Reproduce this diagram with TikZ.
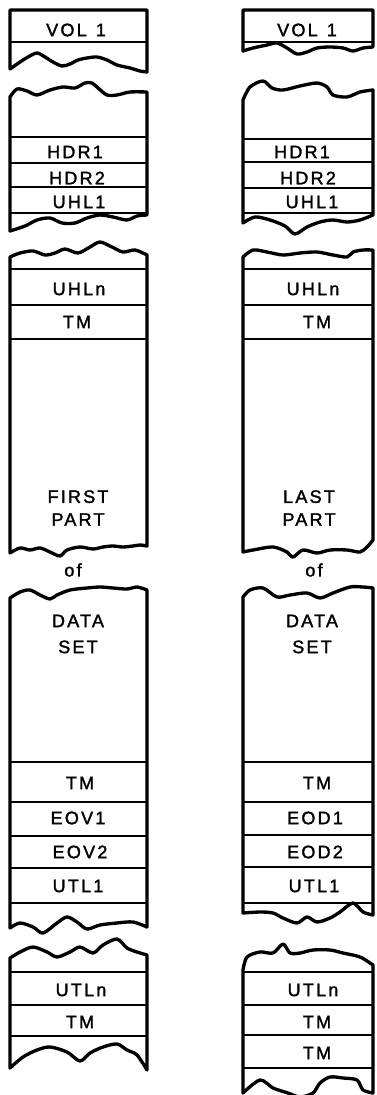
\documentclass[tikz,border=0pt]{standalone}
\usepackage{fontspec}
\setmainfont{Liberation Sans}[LetterSpace=12,FakeBold=1.6]
\tikzset{
  tape/.style={line width=1.9pt, line join=round},
  row/.style={line width=0.9pt},
  lbl/.style={font=\fontsize{10.3}{13}\selectfont, inner sep=0pt, align=center}
}

\begin{document}
\begin{tikzpicture}[x=0.02cm, y=-0.02cm]
                \useasboundingbox (0,0) rectangle (376,1095);
                % first volume
                \draw [tape] (10,10) -- (147,10) -- plot[smooth] coordinates {(147,72) (140,71) (130,68) (117,65) (107,60) (97,57) (87,58) (78,60) (70,64) (62,66) (53,62) (45,57) (37,53) (28,57) (20,62) (10,69)} -- cycle;
                \draw [row] (10,42) -- (147,42);
                \draw [tape] plot[smooth] coordinates {(10,97) (17,89) (27,91) (37,95) (50,90) (63,87) (75,88) (85,83) (92,83) (98,88) (107,95) (117,95) (130,92) (147,92)} -- plot[smooth] coordinates {(147,215) (137,216) (127,220) (113,217) (100,215) (87,218) (75,223) (62,223) (50,218) (37,220) (25,226) (10,231)} -- cycle;
                \foreach \y in {137,163,187,213} \draw [row] (10,\y) -- (147,\y);
                \draw [tape] plot[smooth] coordinates {(10,257) (20,253) (33,251) (45,255) (55,253) (65,249) (78,253) (90,247) (100,242) (112,247) (123,252) (135,250) (147,255)} -- plot[smooth] coordinates {(147,546) (140,545) (133,546) (123,547) (113,546) (103,547) (93,549) (80,547) (67,550) (60,556) (50,552) (40,548) (30,550) (20,548) (10,553)} -- cycle;
                \foreach \y in {269,305,339} \draw [row] (10,\y) -- (147,\y);
                \draw [tape] plot[smooth] coordinates {(10,598) (20,592) (30,590) (40,595) (50,599) (57,595) (70,590) (87,588) (100,587) (113,588) (127,589) (137,587) (147,590)} -- plot[smooth] coordinates {(147,927) (133,922) (117,923) (100,925) (87,929) (77,922) (67,917) (57,923) (43,933) (33,927) (20,923) (10,928)} -- cycle;
                \foreach \y in {762,802,836,868,903} \draw [row] (10,\y) -- (147,\y);
                \draw [tape] plot[smooth] coordinates {(10,958) (20,952) (33,947) (47,952) (57,957) (70,952) (80,947) (93,953) (103,945) (117,939) (127,948) (137,952) (147,955)} -- plot[smooth] coordinates {(147,1070) (137,1055) (127,1050) (117,1044) (103,1047) (90,1053) (80,1061) (67,1052) (50,1047) (37,1050) (23,1057) (10,1068)} -- cycle;
                \foreach \y in {972,1005,1036} \draw [row] (10,\y) -- (147,\y);
                \node [lbl] (volF) at (76,30) {VOL\enspace 1};
                \node [lbl] (hdrOneF) at (75,152) {HDR1};
                \node [lbl] (hdrTwoF) at (77,178) {HDR2};
                \node [lbl] (uhlOneF) at (79,202) {UHL1};
                \node [lbl] (uhlnF) at (79,289) {UHLn};
                \node [lbl] (tmaF) at (77,322) {TM};
                \node [lbl] (partF) at (78,508) {FIRST\\PART};
                \node [lbl] (ofF) at (73,570) {of};
                \node [lbl] (dataF) at (78,634) {DATA\\[1.8pt]SET};
                \node [lbl] (tmbF) at (80,783) {TM};
                \node [lbl] (eovOneF) at (78,818) {EOV1};
                \node [lbl] (eovTwoF) at (80,852) {EOV2};
                \node [lbl] (utlOneF) at (78,886) {UTL1};
                \node [lbl] (utlnF) at (81,990) {UTLn};
                \node [lbl] (tmcF) at (80,1022) {TM};
                % last volume
                \draw [tape] (243,10) -- (373,10) -- plot[smooth] coordinates {(373,47) (363,48) (353,51) (343,48) (330,47) (317,48) (307,52) (297,54) (287,48) (277,43) (267,45) (253,48) (243,51)} -- cycle;
                \draw [row] (243,42) -- (373,42);
                \draw [tape] plot[smooth] coordinates {(243,100) (250,87) (263,81) (272,88) (283,90) (300,86) (317,83) (327,87) (333,95) (347,97) (360,92) (373,90)} -- plot[smooth] coordinates {(373,215) (360,220) (347,222) (333,220) (320,222) (307,227) (295,234) (285,226) (270,220) (255,217) (243,223)} -- cycle;
                \foreach \y in {139,162,188,213} \draw [row] (243,\y) -- (373,\y);
                \draw [tape] plot[smooth] coordinates {(243,257) (253,250) (267,252) (283,255) (300,253) (317,252) (333,255) (347,257) (353,252) (363,250) (373,250)} -- plot[smooth] coordinates {(373,540) (367,547) (360,552) (347,550) (330,550) (317,553) (303,550) (293,557) (287,552) (273,547) (253,550) (243,552)} -- cycle;
                \foreach \y in {269,305,339} \draw [row] (243,\y) -- (373,\y);
                \draw [tape] plot[smooth] coordinates {(243,597) (250,590) (263,588) (277,597) (290,595) (307,593) (320,598) (333,593) (350,587) (363,587) (373,588)} -- plot[smooth] coordinates {(373,915) (363,912) (353,903) (340,912) (330,918) (317,922) (307,917) (297,923) (283,918) (273,913) (260,912) (243,913)} -- cycle;
                \foreach \y in {762,802,835,867,903} \draw [row] (243,\y) -- (373,\y);
                \draw [tape] plot[smooth] coordinates {(243,970) (247,957) (260,952) (273,953) (283,944) (290,953) (300,953) (313,950) (330,950) (343,953) (360,957) (373,965)} -- plot[smooth] coordinates {(373,1093) (363,1090) (357,1080) (343,1078) (330,1077) (320,1083) (313,1093) (300,1097) (288,1093) (273,1088) (260,1080) (243,1093)} -- cycle;
                \foreach \y in {972,1005,1035,1068} \draw [row] (243,\y) -- (373,\y);
                \node [lbl] (volL) at (307,30) {VOL\enspace 1};
                \node [lbl] (hdrOneL) at (302,152) {HDR1};
                \node [lbl] (hdrTwoL) at (308,178) {HDR2};
                \node [lbl] (uhlOneL) at (312,202) {UHL1};
                \node [lbl] (uhlnL) at (313,289) {UHLn};
                \node [lbl] (tmaL) at (317,322) {TM};
                \node [lbl] (partL) at (309,508) {LAST\\PART};
                \node [lbl] (ofL) at (314,570) {of};
                \node [lbl] (dataL) at (312,634) {DATA\\[1.8pt]SET};
                \node [lbl] (tmbL) at (317,783) {TM};
                \node [lbl] (eodOneL) at (315,818) {EOD1};
                \node [lbl] (eodTwoL) at (315,852) {EOD2};
                \node [lbl] (utlOneL) at (314,886) {UTL1};
                \node [lbl] (utlnL) at (313,990) {UTLn};
                \node [lbl] (tmcL) at (317,1022) {TM};
                \node [lbl] (tmdL) at (317,1053) {TM};
            \end{tikzpicture}
\end{document}
